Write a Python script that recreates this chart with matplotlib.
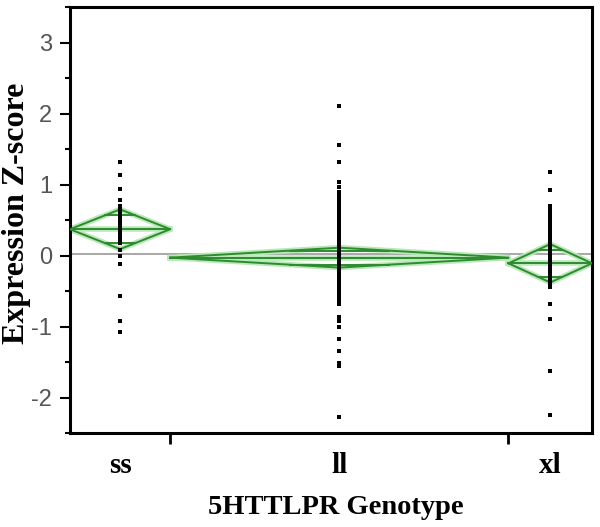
import numpy as np
import matplotlib.pyplot as plt
from matplotlib.ticker import MultipleLocator

plt.rcParams['axes.unicode_minus'] = False

# groups and their relative sizes (x width in the JMP plot is proportional to n)
groups = ['ss', 'll', 'xl']
group_n = [24, 81, 20]
group_mean = [0.37, -0.03, -0.11]
group_ci = [0.28, 0.14, 0.27]
grand_mean = 0.02

ss_vals = [1.31, 1.14, 0.94, 0.78, 0.70, 0.66, 0.63, 0.59, 0.55, 0.51, 0.47,
           0.43, 0.39, 0.35, 0.31, 0.27, 0.24, 0.20, 0.17, 0.08, 0.00, -0.12,
           -0.57, -0.92, -1.08]
ll_vals = [2.11, 1.55, 1.31, 1.03, 0.96, 0.89, 0.86, 0.82, 0.78, 0.75, 0.71,
           0.67, 0.64, 0.60, 0.56, 0.52, 0.46, 0.42, 0.38, 0.34, 0.31, 0.27,
           0.23, 0.19, 0.16, 0.12, 0.08, 0.04, 0.01, -0.03, -0.07, -0.11,
           -0.14, -0.18, -0.22, -0.26, -0.29, -0.33, -0.37, -0.41, -0.44,
           -0.48, -0.52, -0.56, -0.60, -0.63, -0.68, -0.87, -0.92, -1.01,
           -1.17, -1.35, -1.51, -1.55, -2.28]
xl_vals = [1.17, 0.92, 0.70, 0.66, 0.63, 0.61, 0.59, 0.57, 0.55, 0.52, 0.49,
           0.46, 0.42, 0.38, 0.34, 0.30, 0.26, 0.22, 0.18, 0.14, 0.10, 0.06,
           0.02, -0.02, -0.06, -0.10, -0.14, -0.18, -0.22, -0.26, -0.30,
           -0.34, -0.38, -0.42, -0.45, -0.68, -0.90, -1.62, -2.25]
all_vals = [ss_vals, ll_vals, xl_vals]

fig = plt.figure(figsize=(6, 5.27), dpi=100)
ax = fig.add_axes([70/600, 1-433/527, 522/600, 426/527])

edges = np.concatenate([[0], np.cumsum(group_n)])
centers = (edges[:-1] + edges[1:]) / 2

ax.axhline(grand_mean, color='#9a9a9a', lw=1.2, zorder=1)

green = '#2e8b2e'
glow = '#b9e8b9'
for i in range(3):
    x0, x1, xc = edges[i], edges[i+1], centers[i]
    m, c = group_mean[i], group_ci[i]
    dx = [x0, xc, x1, xc, x0]
    dy = [m, m + c, m, m - c, m]
    ax.plot(dx, dy, color=glow, lw=4, zorder=2)
    ax.plot([x0, x1], [m, m], color=glow, lw=4, zorder=2)
    ax.plot(dx, dy, color=green, lw=1.4, zorder=3)
    ax.plot([x0, x1], [m, m], color=green, lw=1.4, zorder=3)
    # overlap marks
    h = c / np.sqrt(2)
    half = (x1 - x0) / 2 * (1 - 1 / np.sqrt(2))
    for s in (1, -1):
        ax.plot([xc - half, xc + half], [m + s*h, m + s*h], color=green, lw=1.4, zorder=3)

for i, vals in enumerate(all_vals):
    ax.plot([centers[i]] * len(vals), vals, 's', color='black', ms=2.8,
            mew=0, zorder=4)

ax.set_xlim(0, edges[-1])
ax.set_ylim(-2.5, 3.5)

ax.yaxis.set_major_locator(MultipleLocator(1))
ax.yaxis.set_minor_locator(MultipleLocator(0.5))
ax.tick_params(axis='y', which='major', length=7, width=1.5, labelsize=17,
               labelcolor='#555555', direction='out', pad=6)
ax.tick_params(axis='y', which='minor', length=3.5, width=1.5, direction='out')
for t in ax.get_yticklabels():
    t.set_family('Liberation Sans')

ax.set_xticks(centers)
ax.set_xticklabels(groups, family='Liberation Serif', fontweight='bold', fontsize=21)
ax.set_xticks(edges[1:-1], minor=True)
ax.tick_params(axis='x', which='major', length=0, pad=14)
ax.tick_params(axis='x', which='minor', length=8, width=2, direction='out')

for sp in ax.spines.values():
    sp.set_linewidth(2.2)
    sp.set_color('black')

ax.set_ylabel('Expression Z-score', family='Liberation Serif', fontweight='bold',
              fontsize=23)
ax.yaxis.set_label_coords(-0.074, 0.515)
ax.set_xlabel('5HTTLPR Genotype', family='Liberation Serif', fontweight='bold',
              fontsize=20.5)
ax.xaxis.set_label_coords(0.51, -0.145)

fig.savefig('out.png', dpi=100)
